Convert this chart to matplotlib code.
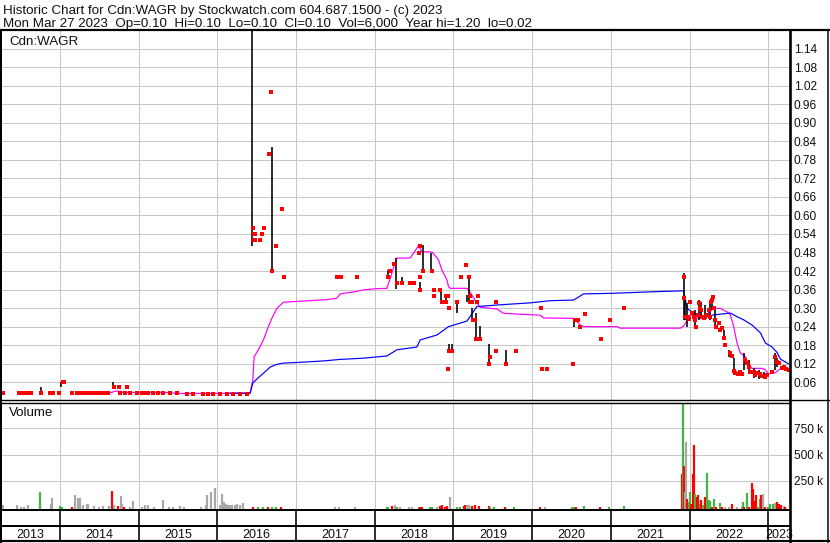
import matplotlib
matplotlib.use("Agg")
import matplotlib.pyplot as plt
from matplotlib.lines import Line2D

plt.rcParams['font.family'] = ['Liberation Sans', 'DejaVu Sans']

W, H = 830, 543
# ---------------- data (decimal years, prices in $, volume in thousands) -------------
dot_t = [2013.271, 2013.479, 2013.513, 2013.564, 2013.597, 2013.627, 2013.755, 2013.873, 2013.894,
         2013.915, 2013.991, 2014.034, 2014.055, 2014.157, 2014.212, 2014.229, 2014.246, 2014.276,
         2014.305, 2014.331, 2014.360, 2014.403, 2014.445, 2014.487, 2014.530, 2014.585, 2014.614,
         2014.687, 2014.750, 2014.848, 2014.763, 2014.826, 2014.890, 2014.975, 2015.038, 2015.081,
         2015.123, 2015.186, 2015.250, 2015.314, 2015.399, 2015.484, 2015.611, 2015.695, 2015.822,
         2015.886, 2015.949, 2016.034, 2016.119, 2016.203, 2016.289, 2016.374,
         2016.450, 2016.467, 2016.480, 2016.467, 2016.480, 2016.543, 2016.565, 2016.590, 2016.654,
         2016.679, 2016.699, 2016.743, 2016.819, 2016.848, 2017.518, 2017.569, 2017.770,
         2018.162, 2018.196, 2018.247, 2018.281, 2018.345, 2018.451, 2018.501, 2018.569, 2018.565,
         2018.612, 2018.569, 2018.578, 2018.726, 2018.756, 2018.756, 2018.832,
         2018.852, 2018.903, 2018.924, 2018.903, 2018.945, 2018.937, 2018.979, 2018.924, 2019.051,
         2019.094, 2019.162, 2019.200, 2019.212, 2019.204, 2019.234, 2019.310, 2019.297, 2019.242,
         2019.268, 2019.284, 2019.340, 2019.454, 2019.467, 2019.543, 2019.670, 2019.797, 2019.543,
         2020.124, 2020.187, 2020.115, 2020.547, 2020.577, 2020.603, 2020.518, 2020.675, 2020.878,
         2020.993, 2021.170,
         2021.934, 2021.934, 2021.947, 2021.976, 2021.989, 2022.010, 2022.031, 2022.052, 2022.074,
         2022.086, 2022.103, 2022.116, 2022.129, 2022.146, 2022.158, 2022.180, 2022.201, 2022.222,
         2022.243, 2022.256, 2022.273, 2022.286, 2022.298, 2022.307, 2022.328, 2022.341, 2022.370,
         2022.391, 2022.413, 2022.434, 2022.455, 2022.519, 2022.540, 2022.561, 2022.582, 2022.612,
         2022.637, 2022.667, 2022.709, 2022.730, 2022.752, 2022.773, 2022.815, 2022.836, 2022.858,
         2022.900, 2022.921, 2022.964, 2022.985, 2023.048, 2023.091, 2023.112, 2023.133, 2023.175,
         2023.197, 2023.231, 2023.260]
dot_p = [0.024, 0.024, 0.024, 0.024, 0.024, 0.024, 0.024, 0.024, 0.024,
         0.024, 0.024, 0.062, 0.062, 0.024, 0.024, 0.024, 0.024, 0.024,
         0.024, 0.024, 0.024, 0.024, 0.024, 0.024, 0.024, 0.024, 0.024,
         0.046, 0.046, 0.044, 0.024, 0.024, 0.024, 0.024, 0.024, 0.024,
         0.024, 0.024, 0.024, 0.024, 0.024, 0.024, 0.022, 0.022, 0.022,
         0.022, 0.022, 0.022, 0.022, 0.022, 0.022, 0.022,
         0.559, 0.540, 0.540, 0.520, 0.520, 0.520, 0.540, 0.559, 0.800,
         1.000, 0.420, 0.500, 0.620, 0.400, 0.400, 0.400, 0.400,
         0.402, 0.421, 0.442, 0.382, 0.382, 0.382, 0.382, 0.501, 0.479,
         0.421, 0.402, 0.359, 0.421, 0.359, 0.339, 0.359,
         0.321, 0.340, 0.340, 0.321, 0.301, 0.162, 0.162, 0.102, 0.321,
         0.402, 0.440, 0.402, 0.340, 0.321, 0.321, 0.340, 0.321, 0.262,
         0.262, 0.200, 0.200, 0.119, 0.143, 0.162, 0.119, 0.162, 0.319,
         0.102, 0.102, 0.301, 0.262, 0.262, 0.240, 0.119, 0.282, 0.201,
         0.262, 0.301,
         0.402, 0.332, 0.272, 0.272, 0.264, 0.321, 0.283, 0.272, 0.262,
         0.240, 0.278, 0.315, 0.299, 0.294, 0.272, 0.267, 0.272, 0.278,
         0.294, 0.272, 0.321, 0.326, 0.335, 0.299, 0.262, 0.240, 0.251,
         0.229, 0.235, 0.202, 0.181, 0.154, 0.145, 0.098, 0.089, 0.087,
         0.094, 0.087, 0.132, 0.121, 0.111, 0.094, 0.094, 0.084, 0.089,
         0.087, 0.081, 0.078, 0.084, 0.094, 0.143, 0.127, 0.121, 0.105,
         0.111, 0.102, 0.100]

bar_t = [2013.755, 2014.013, 2014.678, 2016.437, 2016.699,
         2018.162, 2018.268, 2018.345, 2018.607, 2018.569, 2018.713, 2018.845,
         2018.903, 2018.937, 2018.979, 2019.051, 2019.191, 2019.178, 2019.234, 2019.280, 2019.331,
         2019.445, 2019.662, 2020.526,
         2021.925, 2021.947, 2021.968, 2022.074, 2022.116, 2022.146, 2022.201, 2022.264, 2022.286,
         2022.328, 2022.434, 2022.497, 2022.561, 2022.688, 2022.752, 2022.815, 2022.879, 2022.942,
         2023.082, 2023.112]
bar_hi = [0.044, 0.062, 0.062, 1.200, 0.820,
          0.423, 0.461, 0.402, 0.504, 0.385, 0.479, 0.359,
          0.340, 0.184, 0.184, 0.321, 0.402, 0.342, 0.301, 0.283, 0.242,
          0.184, 0.165, 0.264,
          0.413, 0.337, 0.316, 0.294, 0.326, 0.321, 0.310, 0.326, 0.337,
          0.299, 0.229, 0.165, 0.138, 0.154, 0.132, 0.105, 0.100, 0.094,
          0.154, 0.138]
bar_lo = [0.024, 0.046, 0.046, 0.500, 0.420,
          0.402, 0.361, 0.382, 0.421, 0.359, 0.421, 0.321,
          0.321, 0.162, 0.162, 0.283, 0.321, 0.321, 0.262, 0.200, 0.200,
          0.119, 0.119, 0.240,
          0.262, 0.262, 0.240, 0.235, 0.262, 0.267, 0.262, 0.262, 0.294,
          0.240, 0.197, 0.143, 0.089, 0.100, 0.089, 0.073, 0.070, 0.073,
          0.100, 0.111]

# fast moving average (magenta)
fast_t = [2014.296, 2014.660, 2014.690, 2014.770, 2014.800, 2015.310, 2015.490, 2016.403,
          2016.416, 2016.450, 2016.467, 2016.521, 2016.585, 2016.648, 2016.692, 2016.755, 2016.839,
          2016.966, 2017.179, 2017.411, 2017.518, 2017.560, 2017.751, 2017.856, 2018.027,
          2018.154, 2018.259, 2018.281, 2018.450,
          2018.556, 2018.599, 2018.726, 2018.810, 2018.853, 2018.917, 2018.937, 2018.959, 2019.171,
          2019.191, 2019.298, 2019.340, 2019.552, 2019.636, 2020.103, 2020.145, 2020.526, 2020.612,
          2020.654, 2021.078, 2021.120, 2021.883, 2021.925, 2022.031, 2022.095, 2022.179, 2022.306,
          2022.391, 2022.476, 2022.519, 2022.561, 2022.604, 2022.646, 2022.709, 2022.751, 2022.794,
          2022.922, 2022.964, 2023.006, 2023.091, 2023.133, 2023.176, 2023.260]
fast_p = [0.027, 0.027, 0.031, 0.031, 0.027, 0.027, 0.024, 0.024,
          0.025, 0.068, 0.143, 0.165, 0.197, 0.240, 0.267, 0.299, 0.319,
          0.321, 0.324, 0.328, 0.332, 0.346, 0.353, 0.359, 0.363,
          0.364, 0.446, 0.462, 0.462,
          0.502, 0.482, 0.482, 0.456, 0.423, 0.391, 0.369, 0.364, 0.364,
          0.359, 0.316, 0.303, 0.297, 0.283, 0.277, 0.268, 0.267, 0.245,
          0.240, 0.240, 0.235, 0.235, 0.242, 0.283, 0.267, 0.272, 0.299,
          0.299, 0.288, 0.278, 0.240, 0.186, 0.154, 0.143, 0.116, 0.105,
          0.105, 0.100, 0.087, 0.091, 0.100, 0.105, 0.105]

# slow moving average (blue)
slow_t = [2016.161, 2016.416, 2016.450, 2016.479, 2016.543, 2016.606, 2016.670, 2016.755, 2016.839,
          2017.009, 2017.348, 2017.560, 2017.856, 2017.942, 2018.154, 2018.281, 2018.535, 2018.577,
          2018.790, 2018.937, 2019.171,
          2019.298, 2019.552, 2019.976, 2020.230, 2020.526, 2020.654, 2021.035, 2021.543, 2021.925,
          2021.968, 2022.052, 2022.222, 2022.306, 2022.519, 2022.604, 2022.688, 2022.795, 2022.900,
          2022.964, 2023.049, 2023.113, 2023.155, 2023.256]
slow_p = [0.025, 0.025, 0.057, 0.065, 0.080, 0.094, 0.109, 0.118, 0.122,
          0.124, 0.129, 0.134, 0.138, 0.140, 0.145, 0.165, 0.174, 0.197,
          0.213, 0.240, 0.258,
          0.305, 0.310, 0.317, 0.324, 0.326, 0.346, 0.348, 0.353, 0.356,
          0.299, 0.284, 0.272, 0.278, 0.284, 0.272, 0.262, 0.245, 0.220,
          0.187, 0.174, 0.156, 0.135, 0.120]

vol_t = [2013.27, 2013.45, 2013.50, 2013.54, 2013.59, 2013.74, 2013.88, 2013.90, 2014.00, 2014.02,
         2014.15, 2014.19, 2014.23, 2014.26, 2014.29, 2014.34, 2014.36, 2014.43, 2014.49, 2014.55,
         2014.62, 2014.66, 2014.69, 2014.74, 2014.77, 2014.79, 2014.81, 2014.89, 2014.93,
         2015.04, 2015.08, 2015.12, 2015.19, 2015.31, 2015.38, 2015.44, 2015.53, 2015.57,
         2015.79, 2015.85, 2015.87, 2015.92, 2015.97, 2016.03, 2016.06, 2016.08, 2016.11, 2016.14,
         2016.16,
         2016.18, 2016.22, 2016.25, 2016.29, 2016.33,
         2016.45, 2016.52, 2016.58, 2016.64, 2016.69, 2016.75, 2016.81,
         2017.496, 2017.539, 2017.750, 2018.153, 2018.174, 2018.217, 2018.259, 2018.280, 2018.323,
         2018.429, 2018.471, 2018.556, 2018.577, 2018.598, 2018.704, 2018.725, 2018.789, 2018.831,
         2018.852, 2018.895, 2018.916, 2018.958, 2019.043, 2019.085, 2019.128, 2019.149, 2019.170,
         2019.191, 2019.234, 2019.276, 2019.318, 2019.446, 2019.467, 2019.509, 2019.658, 2019.764,
         2020.103, 2020.166, 2020.505, 2020.527, 2020.560, 2020.654, 2020.866, 2020.971, 2021.162,
         2021.904, 2021.917, 2021.925, 2021.942, 2021.955, 2021.968, 2021.989, 2022.010, 2022.023,
         2022.040, 2022.052, 2022.074, 2022.095, 2022.108, 2022.129, 2022.150, 2022.165, 2022.180,
         2022.201, 2022.222, 2022.243, 2022.264, 2022.286, 2022.307, 2022.341, 2022.391, 2022.413,
         2022.455, 2022.497, 2022.540, 2022.603, 2022.667, 2022.680, 2022.697, 2022.730, 2022.752,
         2022.794, 2022.807, 2022.824, 2022.849, 2022.866, 2022.892, 2022.913, 2022.934, 2022.964,
         2022.993, 2023.027, 2023.061, 2023.091, 2023.112, 2023.133, 2023.163, 2023.197, 2023.218]
vol_k = [18, 18, 6, 6, 18, 145, 34, 88, 9, 6,
         4, 114, 88, 88, 18, 34, 34, 9, 4, 9,
         9, 152, 18, 9, 104, 34, 6, 4, 56,
         6, 18, 18, 6, 66, 4, 6, 9, 6,
         2, 18, 114, 145, 183, 18, 123, 50, 34, 25, 25,
         25, 18, 34, 18, 44,
         3, 3, 3, 3, 3, 3, 3,
         8, 8, 8, 8, 8, 15, 18, 8, 8,
         8, 8, 8, 8, 8, 8, 8, 8, 15,
         20, 8, 15, 97, 8, 8, 15, 20, 27,
         20, 15, 20, 15, 15, 8, 8, 8, 8,
         8, 8, 8, 8, 8, 15, 8, 8, 15,
         320, 1100, 393, 145, 622, 82, 50, 145, 34,
         314, 590, 130, 97, 114, 34, 66, 18, 8,
         97, 330, 66, 56, 6, 82, 6, 44, 6,
         3, 3, 28, 3, 6, 50, 8, 136, 8,
         235, 177, 56, 114, 8, 82, 120, 130, 6,
         5, 34, 30, 40, 50, 30, 21, 10, 6]
vol_dir = ['n', 'n', 'n', 'n', 'n', 'g', 'n', 'n', 'g', 'g',
           'r', 'n', 'n', 'n', 'n', 'n', 'n', 'n', 'n', 'n',
           'n', 'r', 'n', 'r', 'n', 'n', 'r', 'n', 'n',
           'n', 'n', 'n', 'n', 'n', 'n', 'n', 'n', 'n',
           'n', 'n', 'n', 'n', 'n', 'n', 'n', 'n', 'n', 'n', 'n',
           'n', 'n', 'n', 'n', 'n',
           'r', 'g', 'g', 'r', 'g', 'g', 'r',
           'n', 'n', 'n', 'g', 'g', 'r', 'n', 'g', 'n',
           'n', 'n', 'g', 'r', 'r', 'g', 'g', 'n', 'r',
           'r', 'r', 'r', 'n', 'g', 'g', 'r', 'r', 'n',
           'n', 'r', 'r', 'r', 'r', 'g', 'g', 'r', 'g',
           'r', 'n', 'g', 'g', 'r', 'g', 'r', 'g', 'g',
           'r', 'g', 'r', 'n', 'n', 'r', 'g', 'g', 'r',
           'r', 'r', 'g', 'r', 'r', 'g', 'r', 'g', 'n',
           'r', 'g', 'g', 'g', 'r', 'g', 'r', 'g', 'r',
           'n', 'n', 'r', 'n', 'g', 'g', 'r', 'g', 'r',
           'r', 'r', 'r', 'r', 'g', 'g', 'r', 'n', 'r',
           'g', 'g', 'g', 'n', 'r', 'r', 'r', 'n', 'r']

years = list(range(2013, 2024))
price_ticks = [0.06, 0.12, 0.18, 0.24, 0.30, 0.36, 0.42, 0.48, 0.54, 0.60, 0.66, 0.72, 0.78,
               0.84, 0.90, 0.96, 1.02, 1.08, 1.14]
vol_ticks = [250000, 500000, 750000]
vol_tick_labels = ['250 k', '500 k', '750 k']

header1 = "Historic Chart for Cdn:WAGR by Stockwatch.com 604.687.1500 - (c) 2023"
header2 = "Mon Mar 27 2023  Op=0.10  Hi=0.10  Lo=0.10  Cl=0.10  Vol=6,000  Year hi=1.20  lo=0.02"

# ---------------- layout helpers ----------------
XMIN, XMAX = 2013.25, 2023.27
PX = 0.72  # points per pixel at 100 dpi


def fx(x):
    return x / W


def fy(y):
    return 1 - y / H


def rect(x0, y0, x1, y1):
    return [fx(x0), fy(y1), fx(x1) - fx(x0), fy(y0) - fy(y1)]


fig = plt.figure(figsize=(W / 100, H / 100), dpi=100)
fig.patch.set_facecolor('white')

grid_c = '#c8c8c8'
vcol = {'g': '#40b840', 'r': '#ff0000', 'n': '#a8a8a8'}
tick_fs = 8.6
label_fs = 9.65
txt_c = '#101010'

# price panel
ax = fig.add_axes(rect(1, 30, 789.5, 400.8))
ax.set_xlim(XMIN, XMAX)
ax.set_ylim(0, 1.2)
for s in ax.spines.values():
    s.set_visible(False)
ax.set_xticks([y for y in years if XMIN < y < XMAX])
ax.set_yticks(price_ticks)
ax.tick_params(axis='x', length=0, labelbottom=False)
ax.yaxis.tick_right()
ax.tick_params(axis='y', length=0, pad=3, labelsize=tick_fs, labelcolor=txt_c)
ax.set_yticklabels(['%.2f' % v for v in price_ticks])
ax.grid(True, color=grid_c, lw=1.0 * PX)
ax.set_axisbelow(True)

ax.plot(fast_t, fast_p, color='#ff00ff', lw=1.2 * PX, zorder=2)
ax.plot(slow_t, slow_p, color='#0000ff', lw=1.2 * PX, zorder=2)
ax.vlines(bar_t, bar_lo, bar_hi, color='black', lw=1.6 * PX, zorder=3)
ax.scatter(dot_t, dot_p, marker='s', s=5.5, color='#ff0000', linewidths=0, zorder=4)
ax.text(8 / 788, 1 - 11.7 / 371, 'Cdn:WAGR', transform=ax.transAxes, fontsize=label_fs,
        va='center', ha='left', color=txt_c)

# volume panel
vax = fig.add_axes(rect(1, 402.8, 789.5, 509.5))
vax.set_xlim(XMIN, XMAX)
vax.set_ylim(-20000, 990000)
for s in vax.spines.values():
    s.set_visible(False)
vax.set_xticks([y for y in years if XMIN < y < XMAX])
vax.set_yticks(vol_ticks)
vax.yaxis.tick_right()
vax.tick_params(axis='x', length=0, labelbottom=False)
vax.tick_params(axis='y', length=0, pad=3, labelsize=tick_fs, labelcolor=txt_c)
vax.set_yticklabels(vol_tick_labels)
vax.grid(True, color=grid_c, lw=1.0 * PX)
vax.set_axisbelow(True)
vax.vlines(vol_t, -20000, [v * 1000 for v in vol_k], colors=[vcol[d] for d in vol_dir],
           lw=2.2 * PX, zorder=3)
vax.text(8 / 788, 1 - 10.5 / 106.7, 'Volume', transform=vax.transAxes, fontsize=label_fs,
         va='center', ha='left', color=txt_c)

# year rows
tax = fig.add_axes(rect(1, 509.5, 789.5, 541.5))
tax.set_xlim(XMIN, XMAX)
tax.set_ylim(0, 32)
tax.axis('off')
for yv in years:
    if XMIN < yv < XMAX:
        tax.plot([yv, yv], [0, 32], color='black', lw=1.6 * PX, zorder=2)
for yv in years:
    a, b = max(yv, XMIN), min(yv + 1, XMAX)
    if b > a:
        tax.text((a + b) / 2, 6.2, str(yv), ha='center', va='center', fontsize=9.0,
                 color=txt_c, zorder=1, clip_on=False)


# frame lines (figure pixels)
def hline(y, x0, x1, lw):
    fig.add_artist(Line2D([fx(x0), fx(x1)], [fy(y), fy(y)], color='black', lw=lw * PX,
                          transform=fig.transFigure, zorder=5))


def vline(x, y0, y1, lw):
    fig.add_artist(Line2D([fx(x), fx(x)], [fy(y0), fy(y1)], color='black', lw=lw * PX,
                          transform=fig.transFigure, zorder=5))


hline(30.2, 0, 829, 2.2)
hline(400.2, 0, 829, 1.4)
hline(402.6, 0, 789.5, 1.4)
hline(509.6, 0, 789.5, 2.0)
hline(526.4, 0, 789.5, 2.0)
hline(541.3, 0, 829, 2.2)
vline(0.9, 30, 541.5, 2.0)
vline(789.6, 30, 541.5, 2.6)
vline(828.0, 30, 541.5, 1.5)

fig.text(fx(3), fy(14.2), header1, fontsize=label_fs, va='baseline', ha='left', color=txt_c)
fig.text(fx(3), fy(26.9), header2, fontsize=label_fs, va='baseline', ha='left', color=txt_c)

fig.savefig('out.png', dpi=100, facecolor='white')
